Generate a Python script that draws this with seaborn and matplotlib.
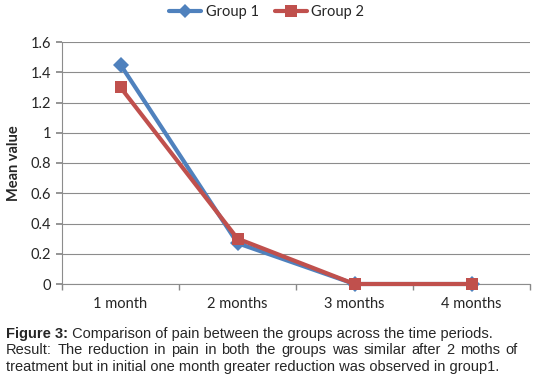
import matplotlib
matplotlib.use('Agg')
import matplotlib.pyplot as plt
import pandas as pd
import seaborn as sns
from matplotlib.lines import Line2D

# data
periods = ["1 month", "2 months", "3 months", "4 months"]
group1 = [1.45, 0.27, 0.0, 0.0]
group2 = [1.30, 0.30, 0.0, 0.0]
y_ticks = [0, 0.2, 0.4, 0.6, 0.8, 1, 1.2, 1.4, 1.6]
y_labels = ["0", "0.2", "0.4", "0.6", "0.8", "1", "1.2", "1.4", "1.6"]

caption_lines = [
    ("Figure 3:", " Comparison of pain between the groups across the time periods."),
    ("", "Result: The reduction in pain in both the groups was similar after 2 moths of"),
    ("", "treatment but in initial one month greater reduction was observed in group1."),
]

df = pd.DataFrame({
    "pos": list(range(len(periods))) * 2,
    "Mean value": group1 + group2,
    "Group": ["Group 1"] * len(periods) + ["Group 2"] * len(periods),
})

sns.set_theme(style="white")
plt.rcParams['font.family'] = ['Lato', 'DejaVu Sans']

W, H = 537, 381
fig = plt.figure(figsize=(W / 100, H / 100), dpi=100)
ax = fig.add_axes([62 / W, 1 - 284 / H, (530 - 62) / W, (284 - 42) / H])

palette = {"Group 1": "#4F81BD", "Group 2": "#C0504D"}
sns.lineplot(data=df, x="pos", y="Mean value", hue="Group", style="Group",
             markers={"Group 1": "D", "Group 2": "s"}, dashes=False,
             palette=palette, linewidth=3, markersize=8.5, markeredgewidth=0,
             ax=ax, legend=False)
for ln in ax.lines:
    ln.set_clip_on(False)
    ln.set_zorder(3)

ax.set_xlim(-0.5, len(periods) - 0.5)
ax.set_ylim(0, 1.6)
ax.set_yticks(y_ticks)
ax.set_yticklabels(y_labels, fontsize=10.5)
ax.set_xticks(range(len(periods)))
ax.set_xticklabels(periods, fontsize=10.5)
ax.set_xticks([i - 0.5 for i in range(len(periods) + 1)], minor=True)
ax.tick_params(axis='x', which='major', length=0, pad=9)
ax.tick_params(axis='x', which='minor', length=4, color='#888888', direction='out')
ax.tick_params(axis='y', length=4, color='#888888', direction='out', pad=4)
ax.xaxis.set_ticks_position('bottom')
ax.yaxis.set_ticks_position('left')
ax.grid(axis='y', color='#8c8c8c', linewidth=0.8)
ax.set_axisbelow(True)
for side in ['top', 'right']:
    ax.spines[side].set_visible(False)
for side in ['left', 'bottom']:
    ax.spines[side].set_color('#8c8c8c')
    ax.spines[side].set_linewidth(0.8)
ax.set_xlabel("")
ax.set_ylabel("Mean value", fontsize=10.5, fontweight='bold', labelpad=7)

# legend on top
handles = [Line2D([], [], color=palette["Group 1"], marker="D", lw=3, ms=7, mew=0),
           Line2D([], [], color=palette["Group 2"], marker="s", lw=3, ms=9, mew=0)]
fig.legend(handles, ["Group 1", "Group 2"], loc='center', bbox_to_anchor=(0.497, 1 - 12 / H),
           ncol=2, frameon=False, fontsize=10.5, handlelength=2.2, columnspacing=1.1,
           handletextpad=0.3)

# caption, line 2 justified to full width
cap_font = ['Liberation Sans', 'DejaVu Sans']
cap_size = 10.5
ys = [334, 350, 367]
x0 = 6
fig.canvas.draw()
renderer = fig.canvas.get_renderer()
for i, ((bold, rest), y) in enumerate(zip(caption_lines, ys)):
    yf = 1 - y / H
    if bold:
        t = fig.text(x0 / W, yf, bold, fontsize=cap_size, fontweight='bold', family=cap_font, va='center')
        bb = t.get_window_extent(renderer)
        fig.text(bb.x1 / W, yf, rest, fontsize=cap_size, family=cap_font, va='center')
    elif i == 1:
        words = rest.split(" ")
        arts = [fig.text(0, yf, w, fontsize=cap_size, family=cap_font, va='center') for w in words]
        widths = [a.get_window_extent(renderer).width for a in arts]
        gap = (518 - x0 - sum(widths)) / (len(words) - 1)
        x = x0
        for a, w in zip(arts, widths):
            a.set_x(x / W)
            x += w + gap
    else:
        fig.text(x0 / W, yf, rest, fontsize=cap_size, family=cap_font, va='center')

fig.savefig("out.png", dpi=100)
